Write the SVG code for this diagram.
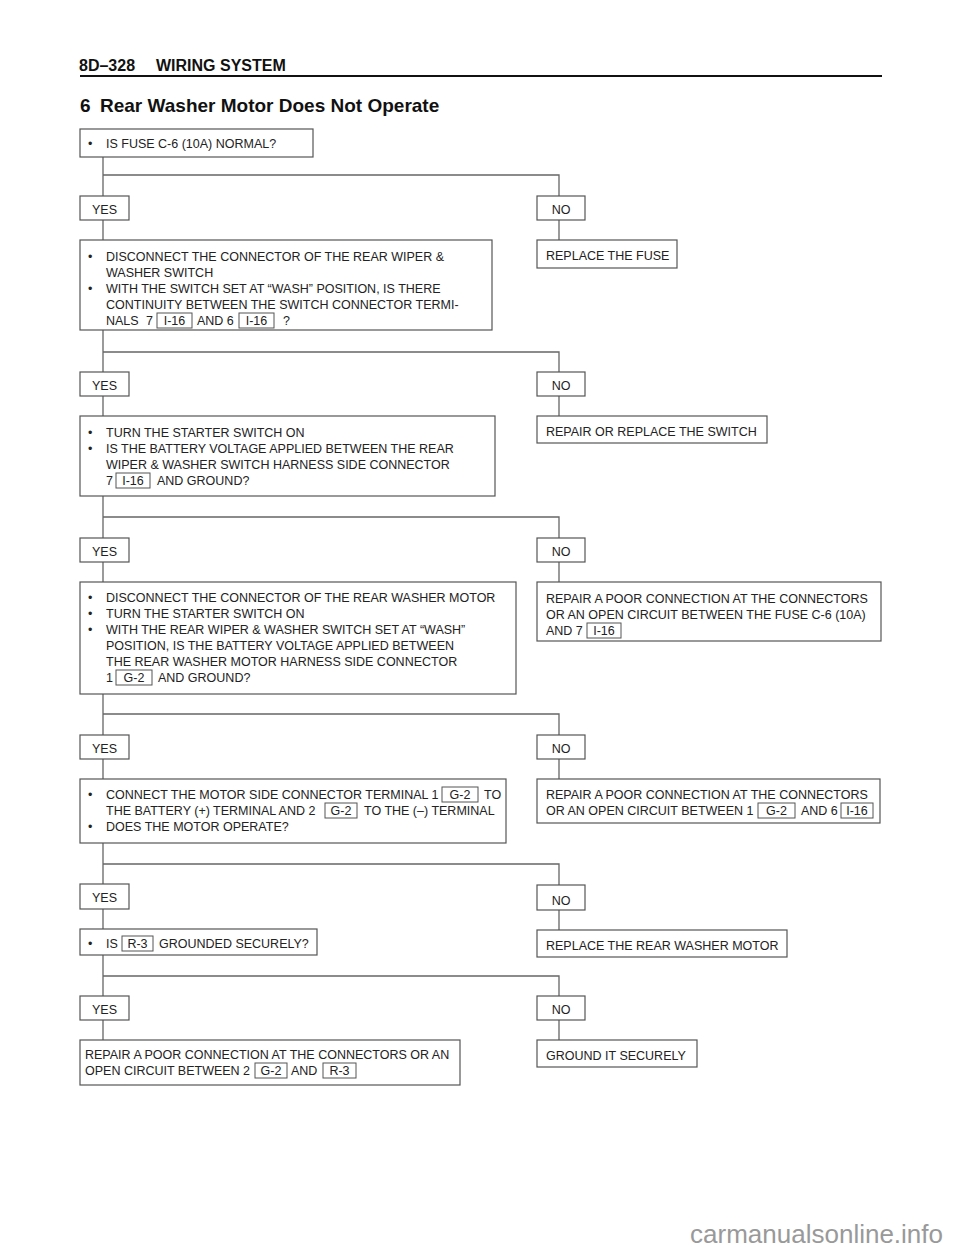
<svg xmlns="http://www.w3.org/2000/svg" width="960" height="1250" viewBox="0 0 960 1250">
<style>
.t{font-family:"Liberation Sans",Arial,sans-serif;font-size:12.5px;fill:#222}
.c{text-anchor:middle}
.b{fill:#fff;stroke:#555;stroke-width:1.2}
.r{fill:none;stroke:#555;stroke-width:1}
.ln{fill:none;stroke:#666;stroke-width:1.3}
.h{font-family:"Liberation Sans",Arial,sans-serif;font-weight:bold;fill:#111}
</style>
<rect width="960" height="1250" fill="#fff"/>
<g id="header">
<text class="h" x="79" y="71" font-size="16">8D–328</text>
<text class="h" x="156" y="71" font-size="16">WIRING SYSTEM</text>
<line x1="80" y1="76" x2="882" y2="76" stroke="#111" stroke-width="2"/>
<text class="h" x="80" y="112" font-size="19">6</text>
<text class="h" x="100" y="112" font-size="19">Rear Washer Motor Does Not Operate</text>
</g>
<g id="connectors">
<path class="ln" d="M103 157V196M103 175H559V196M103 220V240M559 220V240"/>
<path class="ln" d="M103 330V372M103 352H559V372M103 396V416M559 396V416"/>
<path class="ln" d="M103 496V538M103 517H559V538M103 562V582M559 562V582"/>
<path class="ln" d="M103 694V735M103 714H559V735M103 759V779M559 759V779"/>
<path class="ln" d="M103 843V884M103 864H559V885M103 909V929M559 910V930"/>
<path class="ln" d="M103 955V996M103 976H559V996M103 1020V1040M559 1020V1040"/>
</g>
<g id="q1">
<rect class="b" x="80" y="129" width="233" height="28"/>
<text class="t" x="88" y="148">•</text><text class="t" x="106" y="148">IS FUSE C-6 (10A) NORMAL?</text>
</g>
<g id="yes1"><rect class="b" x="80" y="196" width="49" height="24"/><text class="t c" x="104.5" y="214">YES</text></g>
<g id="no1"><rect class="b" x="537" y="196" width="48" height="24"/><text class="t c" x="561" y="214">NO</text></g>
<g id="q2">
<rect class="b" x="80" y="240" width="412" height="90"/>
<text class="t" x="88" y="261">•</text><text class="t" x="106" y="261">DISCONNECT THE CONNECTOR OF THE REAR WIPER &amp;</text>
<text class="t" x="106" y="277">WASHER SWITCH</text>
<text class="t" x="88" y="293">•</text><text class="t" x="106" y="293">WITH THE SWITCH SET AT “WASH” POSITION, IS THERE</text>
<text class="t" x="106" y="309">CONTINUITY BETWEEN THE SWITCH CONNECTOR TERMI-</text>
<text class="t" x="106" y="325">NALS</text><text class="t" x="146" y="325">7</text>
<rect class="r" x="157" y="313" width="35" height="15"/><text class="t c" x="174.5" y="325">I-16</text>
<text class="t" x="197" y="325">AND 6</text>
<rect class="r" x="239" y="313" width="35" height="15"/><text class="t c" x="256.5" y="325">I-16</text>
<text class="t" x="283" y="325">?</text>
</g>
<g id="a1"><rect class="b" x="537" y="240" width="140" height="28"/><text class="t" x="546" y="260">REPLACE THE FUSE</text></g>
<g id="yes2"><rect class="b" x="80" y="372" width="49" height="24"/><text class="t c" x="104.5" y="390">YES</text></g>
<g id="no2"><rect class="b" x="537" y="372" width="48" height="24"/><text class="t c" x="561" y="390">NO</text></g>
<g id="q3">
<rect class="b" x="80" y="416" width="415" height="80"/>
<text class="t" x="88" y="437">•</text><text class="t" x="106" y="437">TURN THE STARTER SWITCH ON</text>
<text class="t" x="88" y="453">•</text><text class="t" x="106" y="453">IS THE BATTERY VOLTAGE APPLIED BETWEEN THE REAR</text>
<text class="t" x="106" y="469">WIPER &amp; WASHER SWITCH HARNESS SIDE CONNECTOR</text>
<text class="t" x="106" y="485">7</text>
<rect class="r" x="116" y="473" width="34" height="15"/><text class="t c" x="133" y="485">I-16</text>
<text class="t" x="157" y="485">AND GROUND?</text>
</g>
<g id="a2"><rect class="b" x="537" y="416" width="230" height="27"/><text class="t" x="546" y="436">REPAIR OR REPLACE THE SWITCH</text></g>
<g id="yes3"><rect class="b" x="80" y="538" width="49" height="24"/><text class="t c" x="104.5" y="556">YES</text></g>
<g id="no3"><rect class="b" x="537" y="538" width="48" height="24"/><text class="t c" x="561" y="556">NO</text></g>
<g id="q4">
<rect class="b" x="80" y="582" width="436" height="112"/>
<text class="t" x="88" y="602">•</text><text class="t" x="106" y="602">DISCONNECT THE CONNECTOR OF THE REAR WASHER MOTOR</text>
<text class="t" x="88" y="618">•</text><text class="t" x="106" y="618">TURN THE STARTER SWITCH ON</text>
<text class="t" x="88" y="634">•</text><text class="t" x="106" y="634">WITH THE REAR WIPER &amp; WASHER SWITCH SET AT “WASH”</text>
<text class="t" x="106" y="650">POSITION, IS THE BATTERY VOLTAGE APPLIED BETWEEN</text>
<text class="t" x="106" y="666">THE REAR WASHER MOTOR HARNESS SIDE CONNECTOR</text>
<text class="t" x="106" y="682">1</text>
<rect class="r" x="116" y="670" width="36" height="15"/><text class="t c" x="134" y="682">G-2</text>
<text class="t" x="158" y="682">AND GROUND?</text>
</g>
<g id="a3">
<rect class="b" x="537" y="582" width="344" height="59"/>
<text class="t" x="546" y="603">REPAIR A POOR CONNECTION AT THE CONNECTORS</text>
<text class="t" x="546" y="619">OR AN OPEN CIRCUIT BETWEEN THE FUSE C-6 (10A)</text>
<text class="t" x="546" y="635">AND 7</text>
<rect class="r" x="587" y="623" width="34" height="15"/><text class="t c" x="604" y="635">I-16</text>
</g>
<g id="yes4"><rect class="b" x="80" y="735" width="49" height="24"/><text class="t c" x="104.5" y="753">YES</text></g>
<g id="no4"><rect class="b" x="537" y="735" width="48" height="24"/><text class="t c" x="561" y="753">NO</text></g>
<g id="q5">
<rect class="b" x="80" y="779" width="426" height="64"/>
<text class="t" x="88" y="799">•</text><text class="t" x="106" y="799">CONNECT THE MOTOR SIDE CONNECTOR TERMINAL 1</text>
<rect class="r" x="442" y="787" width="36" height="15"/><text class="t c" x="460" y="799">G-2</text>
<text class="t" x="484" y="799">TO</text>
<text class="t" x="106" y="815">THE BATTERY (+) TERMINAL AND 2</text>
<rect class="r" x="325" y="803" width="32" height="15"/><text class="t c" x="341" y="815">G-2</text>
<text class="t" x="364" y="815">TO THE (–) TERMINAL</text>
<text class="t" x="88" y="831">•</text><text class="t" x="106" y="831">DOES THE MOTOR OPERATE?</text>
</g>
<g id="a4">
<rect class="b" x="537" y="779" width="343" height="44"/>
<text class="t" x="546" y="799">REPAIR A POOR CONNECTION AT THE CONNECTORS</text>
<text class="t" x="546" y="815">OR AN OPEN CIRCUIT BETWEEN 1</text>
<rect class="r" x="758" y="803" width="37" height="15"/><text class="t c" x="776.5" y="815">G-2</text>
<text class="t" x="801" y="815">AND 6</text>
<rect class="r" x="841" y="803" width="32" height="15"/><text class="t c" x="857" y="815">I-16</text>
</g>
<g id="yes5"><rect class="b" x="80" y="884" width="49" height="25"/><text class="t c" x="104.5" y="902">YES</text></g>
<g id="no5"><rect class="b" x="537" y="885" width="48" height="25"/><text class="t c" x="561" y="905">NO</text></g>
<g id="q6">
<rect class="b" x="80" y="929" width="237" height="26"/>
<text class="t" x="88" y="948">•</text><text class="t" x="106" y="948">IS</text>
<rect class="r" x="122" y="936" width="31" height="15"/><text class="t c" x="137.5" y="948">R-3</text>
<text class="t" x="159" y="948">GROUNDED SECURELY?</text>
</g>
<g id="a5"><rect class="b" x="537" y="930" width="250" height="27"/><text class="t" x="546" y="950">REPLACE THE REAR WASHER MOTOR</text></g>
<g id="yes6"><rect class="b" x="80" y="996" width="49" height="24"/><text class="t c" x="104.5" y="1014">YES</text></g>
<g id="no6"><rect class="b" x="537" y="996" width="48" height="24"/><text class="t c" x="561" y="1014">NO</text></g>
<g id="a6">
<rect class="b" x="80" y="1040" width="380" height="45"/>
<text class="t" x="85" y="1059">REPAIR A POOR CONNECTION AT THE CONNECTORS OR AN</text>
<text class="t" x="85" y="1075">OPEN CIRCUIT BETWEEN 2</text>
<rect class="r" x="255" y="1063" width="32" height="15"/><text class="t c" x="271" y="1075">G-2</text>
<text class="t" x="291" y="1075">AND</text>
<rect class="r" x="323" y="1063" width="33" height="15"/><text class="t c" x="339.5" y="1075">R-3</text>
</g>
<g id="a7"><rect class="b" x="537" y="1040" width="160" height="27"/><text class="t" x="546" y="1060">GROUND IT SECURELY</text></g>
<text x="943" y="1243" text-anchor="end" font-family="Liberation Sans,Arial,sans-serif" font-size="26" fill="#999">carmanualsonline.info</text>
</svg>
